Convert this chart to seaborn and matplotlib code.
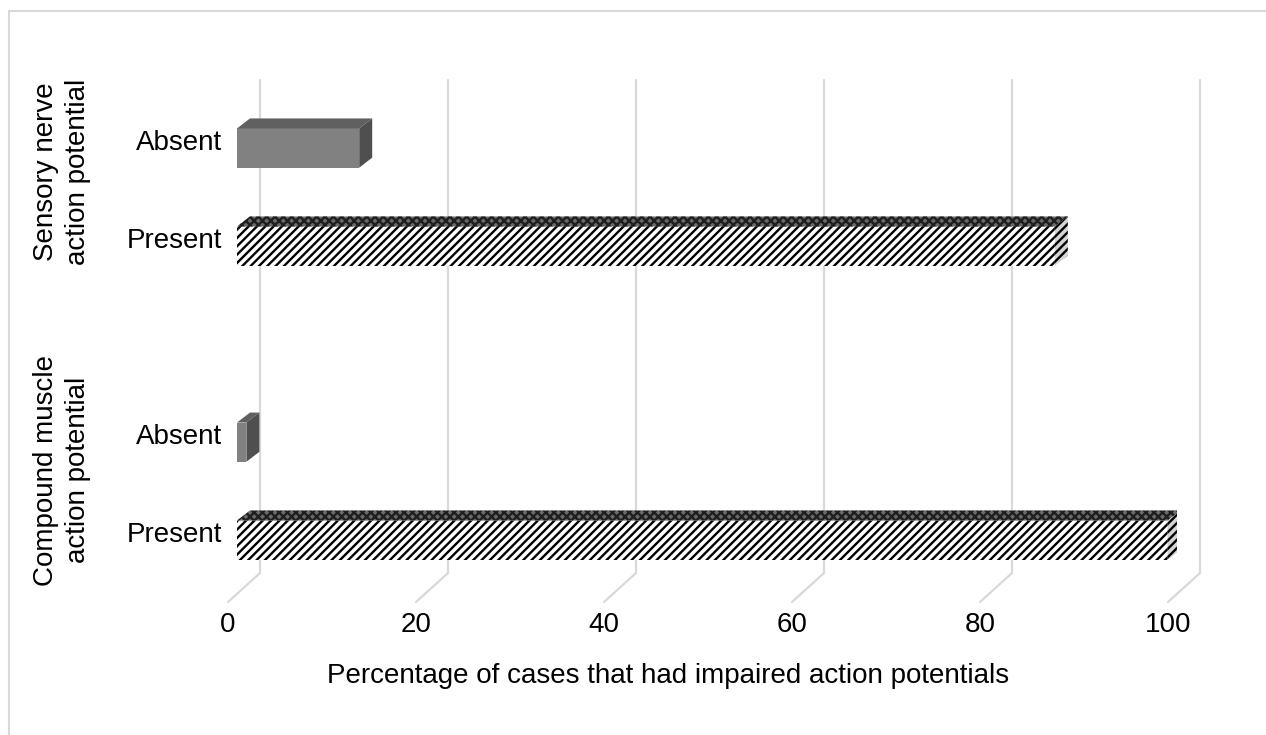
import numpy as np
import pandas as pd
import matplotlib
matplotlib.use("Agg")
import matplotlib.pyplot as plt
import seaborn as sns
from matplotlib.patches import Polygon
from matplotlib.lines import Line2D
from matplotlib.transforms import IdentityTransform, ScaledTranslation

# Style
sns.set_style('white')
plt.rcParams['font.family'] = ['Liberation Sans', 'DejaVu Sans']
plt.rcParams['text.color'] = 'black'
plt.rcParams['axes.labelcolor'] = 'black'
plt.rcParams['xtick.color'] = 'black'
plt.rcParams['ytick.color'] = 'black'
plt.rcParams['hatch.linewidth'] = 1.7

# Data (top to bottom), slot 2 is the gap between the two groups
bar_labels = ['Absent', 'Present', 'Absent', 'Present']
bar_slots = [0, 1, 3, 4]
bar_values = [13, 87, 1, 99]
bar_kind = ['absent', 'present', 'absent', 'present']
group_labels = ['Sensory nerve\naction potential', 'Compound muscle\naction potential']
x_ticks = [0, 20, 40, 60, 80, 100]
x_label = 'Percentage of cases that had impaired action potentials'

df = pd.DataFrame({'slot': bar_slots, 'value': bar_values, 'kind': bar_kind})

W, H, DPI = 1266, 735, 100
FS = 20
fig = plt.figure(figsize=(W / DPI, H / DPI), dpi=DPI)
ax = fig.add_axes([237 / W, 1 - 600 / H, 940 / W, 520 / H])

sns.barplot(data=df, x='value', y='slot', orient='h', native_scale=True,
            width=0.4, color='#808080', ax=ax, zorder=3)

ax.set_xlim(0, 100)
ax.set_ylim(4.61, -0.694)
sns.despine(ax=ax, left=True, bottom=True)
ax.grid(False)

# 3D look: front face + top + side faces built from the drawn bars
DX, DY = 13, 10
for patch, kind in zip(ax.patches, df['kind']):
    x0, y0 = patch.get_x(), patch.get_y()
    w, h = patch.get_width(), patch.get_height()
    (l, b), (r, t) = ax.transData.transform([(x0, y0 + h), (x0 + w, y0)])
    top = [(l, t), (r, t), (r + DX, t + DY), (l + DX, t + DY)]
    side = [(r, b), (r, t), (r + DX, t + DY), (r + DX, b + DY)]
    if kind == 'present':
        patch.set_facecolor('white')
        patch.set_edgecolor('black')
        patch.set_linewidth(0)
        patch.set_hatch('////')
        ax.add_artist(Polygon(top, closed=True, transform=IdentityTransform(),
                              facecolor='#6a6a6a', edgecolor='#1e1e1e', hatch='xxxx',
                              linewidth=0, zorder=4))
        ax.add_artist(Polygon(side, closed=True, transform=IdentityTransform(),
                              facecolor='#d5d5d5', edgecolor='black', hatch='////',
                              linewidth=0, zorder=4))
    else:
        patch.set_facecolor('#818181')
        patch.set_linewidth(0)
        ax.add_artist(Polygon(top, closed=True, transform=IdentityTransform(),
                              facecolor='#606060', linewidth=0, zorder=4))
        ax.add_artist(Polygon(side, closed=True, transform=IdentityTransform(),
                              facecolor='#4f4f4f', linewidth=0, zorder=4))

# Back-wall gridlines with floor diagonals
ytop = ax.transAxes.transform((0, 1))[1]
ybot = ax.transAxes.transform((0, 0))[1]
for t in x_ticks:
    xp = ax.transData.transform((t, 0))[0]
    ax.add_artist(Line2D([xp + 23, xp + 23, xp - 9],
                         [ytop, ybot + 27, ybot - 2],
                         transform=IdentityTransform(), color='#d9d9d9',
                         linewidth=1.6, zorder=1, clip_on=False))

# Ticks and labels
ax.set_xticks(x_ticks)
ax.set_xticklabels([str(t) for t in x_ticks])
ax.set_yticks(np.array(bar_slots) - 0.08)
ax.set_yticklabels(bar_labels)
ax.tick_params(axis='x', length=0, pad=9, labelsize=FS)
ax.tick_params(axis='y', length=0, pad=11, labelsize=FS)
for lab in ax.get_xticklabels():
    lab.set_transform(lab.get_transform() + ScaledTranslation(-9 / DPI, 0, fig.dpi_scale_trans))

ax.set_ylabel('')
ax.set_xlabel(x_label, fontsize=FS)
ax.xaxis.set_label_coords((668 - 237) / 940, -76 / 520)
ax.xaxis.label.set_va('center')

# Group labels
fig.text(62 / W, 1 - 172 / H, group_labels[0], rotation=90, ha='center', va='center',
         multialignment='center', fontsize=FS, linespacing=1.3)
fig.text(62 / W, 1 - 470 / H, group_labels[1], rotation=90, ha='center', va='center',
         multialignment='center', fontsize=FS, linespacing=1.3)

# Outer frame (top and left)
fig.add_artist(Line2D([9 / W, 1], [1 - 11 / H, 1 - 11 / H], transform=fig.transFigure,
                      color='#d9d9d9', linewidth=1.5))
fig.add_artist(Line2D([9 / W, 9 / W], [1 - 11 / H, 0], transform=fig.transFigure,
                      color='#d9d9d9', linewidth=1.5))

fig.savefig('out.png', dpi=DPI)
